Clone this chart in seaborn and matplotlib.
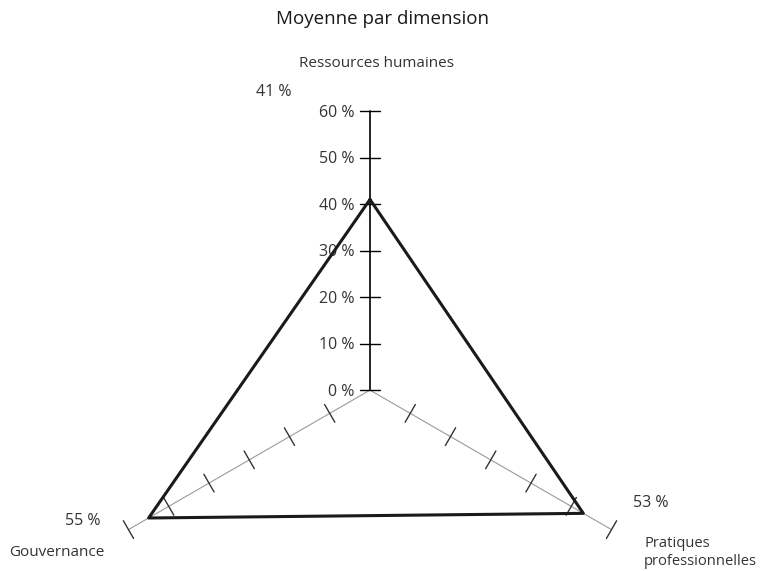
import numpy as np
import pandas as pd
import matplotlib.pyplot as plt
import seaborn as sns

# données du graphique
titre = "Moyenne par dimension"
dimensions = ["Ressources humaines", "Pratiques\nprofessionnelles", "Gouvernance"]
moyennes = [41, 53, 55]
graduations = [0, 10, 20, 30, 40, 50, 60]
etiquettes_graduations = ["0 %", "10 %", "20 %", "30 %", "40 %", "50 %", "60 %"]

sns.set_theme(style="white")
plt.rcParams["font.family"] = ["Open Sans", "DejaVu Sans"]


def polaire(r, a):
    # angle compté dans le sens horaire depuis le haut
    return r * np.sin(a), r * np.cos(a)


angles = np.arange(len(dimensions)) * 2 * np.pi / len(dimensions)
r_max = graduations[-1]
demi_tick = 2.2
gris_texte = "#333333"

fig = plt.figure(figsize=(7.66, 5.71), dpi=100)
ax = fig.add_axes([0, 0, 1, 1])
ax.set_xlim(-79.6, 85.2)
ax.set_ylim(-38.9, 83.9)
ax.axis("off")

# axes du radar + graduations
for i, a in enumerate(angles):
    x, y = polaire(r_max, a)
    if i == 0:
        ax.plot([0, x], [0, y], color="black", lw=1.2, zorder=2)
        ticks = graduations
        couleur_tick = "black"
    else:
        ax.plot([0, x], [0, y], color="#9a9a9a", lw=0.8, zorder=1)
        ticks = graduations[1:]
        couleur_tick = "#333333"
    px, py = np.cos(a), -np.sin(a)
    for g in ticks:
        cx, cy = polaire(g, a)
        ax.plot([cx - demi_tick * px, cx + demi_tick * px],
                [cy - demi_tick * py, cy + demi_tick * py],
                color=couleur_tick, lw=1.0, zorder=2)

# étiquettes de l'échelle (axe vertical)
for g, lab in zip(graduations, etiquettes_graduations):
    ax.text(-3.4, g - 0.3, lab, ha="right", va="center", fontsize=11.5, color=gris_texte)

# polygone des moyennes
xs, ys = polaire(np.array(moyennes + moyennes[:1]), np.append(angles, angles[0]))
df = pd.DataFrame({"x": xs, "y": ys})
sns.lineplot(data=df, x="x", y="y", sort=False, estimator=None,
             color="#1a1a1a", lw=2.2, ax=ax, zorder=3)

# noms des dimensions
x0, y0 = polaire(70.3, angles[0])
ax.text(x0 + 1.5, y0, dimensions[0], ha="center", va="center", fontsize=11, color=gris_texte)
ax.text(59.0, -34.9, dimensions[1], ha="left", va="center", fontsize=10.6, color=gris_texte,
        linespacing=1.3)
x2, y2 = polaire(66, angles[2])
ax.text(x2, y2 - 2.0, dimensions[2], ha="right", va="center", fontsize=11, color=gris_texte)

# valeurs
ax.text(-20.6, 64.1, f"{moyennes[0]} %", ha="center", va="center", fontsize=11.5, color=gris_texte)
ax.text(60.4, -24.3, f"{moyennes[1]} %", ha="center", va="center", fontsize=11.5, color=gris_texte)
ax.text(-61.8, -28.2, f"{moyennes[2]} %", ha="center", va="center", fontsize=11.5, color=gris_texte)

fig.text(0.5, 0.967, titre, ha="center", va="center", fontsize=13.5, color="#1a1a1a")

fig.savefig("out.png", dpi=100)
